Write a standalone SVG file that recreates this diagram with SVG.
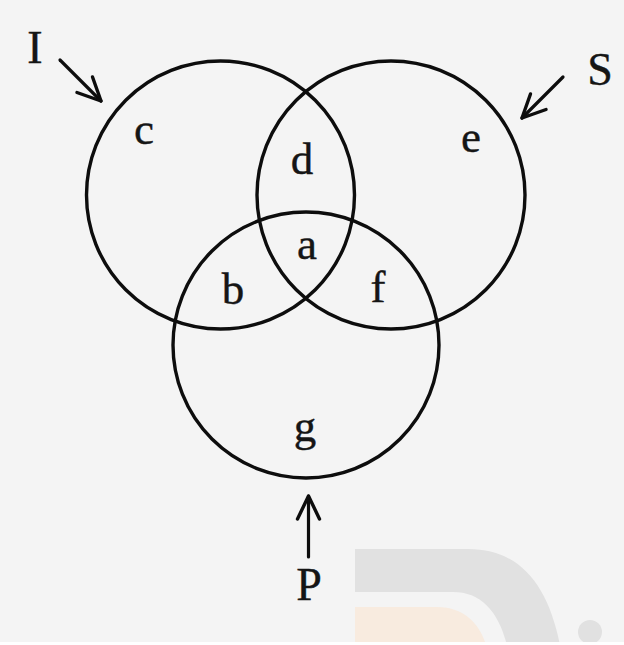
<svg xmlns="http://www.w3.org/2000/svg" width="624" height="645" viewBox="0 0 624 645">
  <style>
    .ring { fill: none; stroke: #0d0d0d; stroke-width: 3.4; }
    .lbl { font-family: "Liberation Serif", "Times New Roman", serif; font-size: 45px; fill: #151515; text-anchor: middle; stroke: #151515; stroke-width: 0.4; }
    .cap { font-size: 46px; }
    .conn { fill: none; stroke: #0d0d0d; stroke-width: 3.2; stroke-linecap: round; }
  </style>
  <defs>
    <marker id="ah" markerUnits="userSpaceOnUse" markerWidth="30" markerHeight="30" viewBox="-28 -15 30 30" refX="0" refY="0" orient="auto" overflow="visible">
      <path d="M-23,-11 L0,0 L-23,11" fill="none" stroke="#0d0d0d" stroke-width="3.4" stroke-linecap="round" stroke-linejoin="round"/>
    </marker>
  </defs>
  <rect x="0" y="0" width="624" height="645" fill="#f4f4f4"/>
  <g id="watermark">
    <path d="M355,549 H468 C520,549 548,585 560,645 H507 C498,610 480,592 453,592 H355 Z" fill="#e1e1e1"/>
    <path d="M355,607 H437 C465,607 480,625 486,645 H355 Z" fill="#f8ebdf"/>
    <circle cx="590" cy="632" r="12" fill="#e1e1e1"/>
    <rect x="0" y="642" width="624" height="3" fill="#ffffff"/>
  </g>
  <g id="set-I">
    <circle class="ring" cx="220.5" cy="195" r="134"/>
    <text class="lbl cap" x="35" y="63">I</text>
    <text class="lbl" x="144" y="144">c</text>
  </g>
  <g id="set-S">
    <circle class="ring" cx="391" cy="195" r="134"/>
    <text class="lbl cap" x="600" y="85">S</text>
    <text class="lbl" x="471" y="152">e</text>
  </g>
  <g id="set-P">
    <circle class="ring" cx="306" cy="345" r="133"/>
    <text class="lbl cap" x="309" y="600">P</text>
    <text class="lbl" x="305" y="441">g</text>
  </g>
  <g id="regions">
    <text class="lbl" x="302" y="174">d</text>
    <text class="lbl" x="307" y="259">a</text>
    <text class="lbl" x="233" y="304">b</text>
    <text class="lbl" x="378" y="302">f</text>
  </g>
  <g id="connectors">
    <path class="conn" d="M60,60 L101,101" marker-end="url(#ah)"/>
    <path class="conn" d="M563,77 L522,118" marker-end="url(#ah)"/>
    <path class="conn" d="M308.5,557 L308.5,496" stroke-width="4.2" marker-end="url(#ah)"/>
  </g>
</svg>
